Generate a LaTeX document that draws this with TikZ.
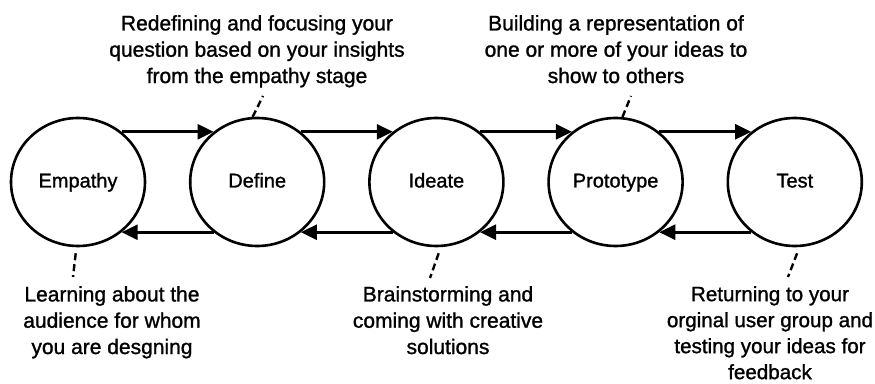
\documentclass[tikz,border=0pt]{standalone}
\usepackage{fontspec}
\setmainfont[FakeBold=1.2]{Liberation Sans}
\usetikzlibrary{shapes.geometric,arrows.meta}

\begin{document}
\begin{tikzpicture}[x=1pt,y=1pt,
  stagenode/.style={ellipse,draw,line width=2.6pt,minimum width=134,minimum height=128,inner sep=0,text height=15pt,text depth=4pt,font=\fontsize{20}{24}\selectfont},
  notenode/.style={align=center,anchor=north,inner sep=0,font=\fontsize{21}{26.3}\selectfont},
  flow/.style={line width=2.6pt,-{Triangle[length=16pt,width=15pt]}},
  pin/.style={line width=2.4pt,dash pattern=on 7pt off 4pt}]
\useasboundingbox (0,0) rectangle (875,383);
  \foreach \nm/\lbl/\pos in {emp/Empathy/0,def/Define/1,ide/Ideate/2,pro/Prototype/3,tes/Test/4}
  {  \node [stagenode] (\nm) at (78+179.2*\pos,201) {\lbl};}
  \foreach \a/\b in {emp/def,def/ide,ide/pro,pro/tes}
  {  \draw [flow] (\a.49) -- (\b.131);
     \draw [flow] (\b.229) -- (\a.311);}
\node [notenode] (deftxt) at (257,368) {Redefining and focusing your\\question based on your insights\\from the empathy stage};
\node [notenode] (protxt) at (616,368) {Building a representation of\\one or more of your ideas to\\show to others};
\node [notenode] (emptxt) at (112,97) {Learning about the\\audience for whom\\you are desgning};
\node [notenode] (idetxt) at (448,97) {Brainstorming and\\coming with creative\\solutions};
\node [notenode,font=\fontsize{20.6}{26}\selectfont] (testxt) at (770,97) {Returning to your\\orginal user group and\\testing your ideas for\\feedback};
\coordinate (defpin) at (263,287);
\coordinate (propin) at (631,287);
\coordinate (emppin) at (73,106);
\coordinate (idepin) at (430,105);
\coordinate (tespin) at (788,106);
\draw [pin] (def.94) -- (defpin);
\draw [pin] (pro.84) -- (propin);
\draw [pin] ([yshift=-6pt]emp.268) -- (emppin);
\draw [pin] ([yshift=-6pt]ide.272) -- (idepin);
\draw [pin] ([yshift=-6pt]tes.272) -- (tespin);
\end{tikzpicture}
\end{document}
